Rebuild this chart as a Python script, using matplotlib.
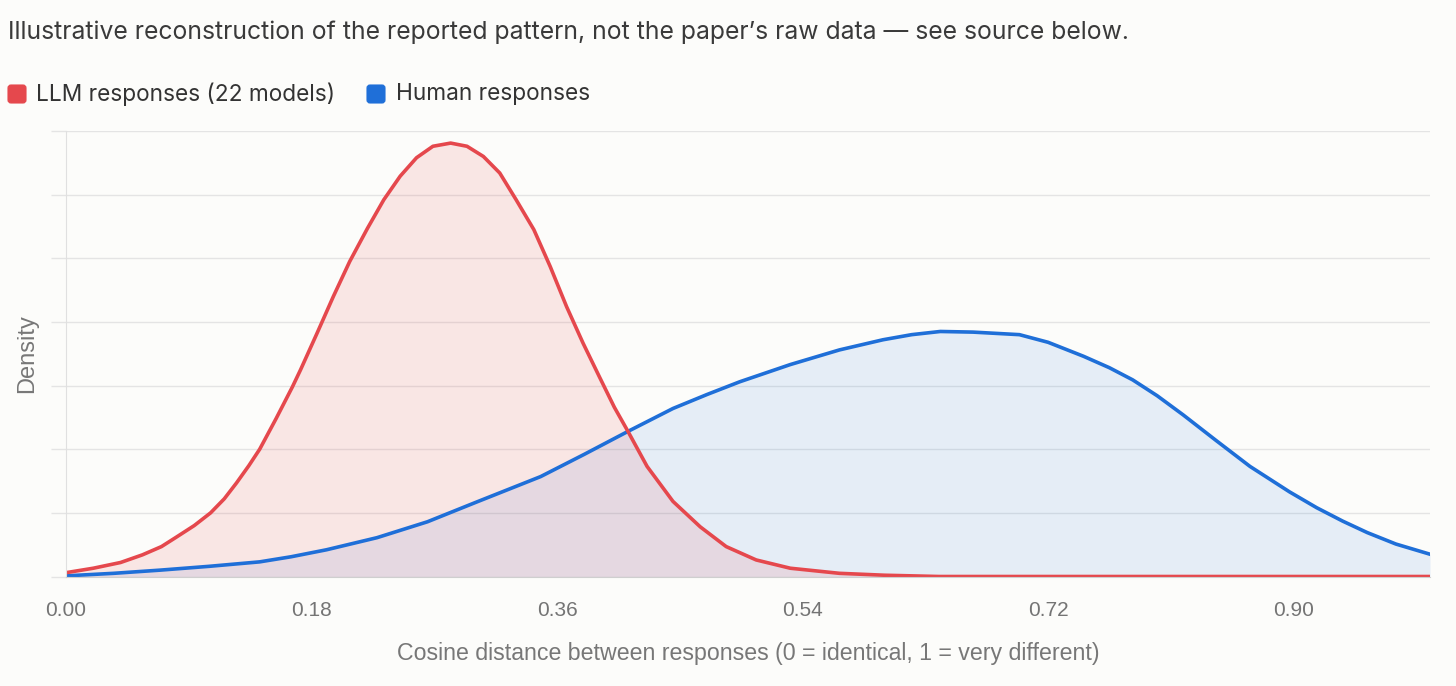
import matplotlib
matplotlib.use("Agg")
import matplotlib.pyplot as plt
from matplotlib.patches import FancyBboxPatch
from matplotlib.transforms import IdentityTransform

# values (x = cosine distance, y = density, arbitrary units)
llm_x = [0.0, 0.02, 0.04, 0.056, 0.07, 0.081, 0.094, 0.106, 0.116, 0.125, 0.134,
         0.142, 0.154, 0.166, 0.172, 0.184, 0.196, 0.208, 0.221, 0.233, 0.245,
         0.257, 0.269, 0.282, 0.294, 0.306, 0.318, 0.330, 0.343, 0.355, 0.367,
         0.379, 0.391, 0.402, 0.412, 0.426, 0.445, 0.465, 0.484, 0.506, 0.531,
         0.567, 0.60, 0.64, 0.70, 0.80, 0.90, 1.0]
llm_y = [0.06, 0.13, 0.22, 0.34, 0.47, 0.62, 0.80, 1.00, 1.22, 1.47, 1.74,
         2.00, 2.48, 2.98, 3.25, 3.82, 4.40, 4.95, 5.47, 5.92, 6.29,
         6.58, 6.76, 6.81, 6.76, 6.60, 6.34, 5.92, 5.45, 4.87, 4.24,
         3.67, 3.14, 2.66, 2.28, 1.73, 1.18, 0.78, 0.47, 0.26, 0.13,
         0.05, 0.02, 0.0, 0.0, 0.0, 0.0, 0.0]

human_x = [0.0, 0.035, 0.069, 0.105, 0.142, 0.165, 0.191, 0.228, 0.265, 0.301, 0.348,
           0.380, 0.412, 0.445, 0.470, 0.494, 0.531, 0.567, 0.599, 0.620, 0.641,
           0.665, 0.699, 0.720, 0.746, 0.765, 0.782, 0.800, 0.819, 0.843, 0.868,
           0.897, 0.917, 0.936, 0.954, 0.975, 1.0]
human_y = [0.01, 0.05, 0.10, 0.16, 0.23, 0.31, 0.42, 0.61, 0.86, 1.17, 1.57,
           1.92, 2.28, 2.64, 2.86, 3.06, 3.33, 3.56, 3.72, 3.80, 3.85,
           3.84, 3.80, 3.68, 3.46, 3.28, 3.09, 2.84, 2.54, 2.14, 1.73,
           1.33, 1.08, 0.87, 0.69, 0.51, 0.35]

x_ticks = [0.0, 0.18, 0.36, 0.54, 0.72, 0.90]
y_ticks = [0, 1, 2, 3, 4, 5, 6, 7]

series_names = ["LLM responses (22 models)", "Human responses"]
RED = "#E5484D"
BLUE = "#1F6FD8"
BG = "#FCFCFA"
GRID = "#E4E4E4"

W, H = 1456, 686
fig = plt.figure(figsize=(W / 100, H / 100), dpi=100, facecolor=BG)
ax = fig.add_axes([66 / W, 1 - 576.5 / H, (1430 - 66) / W, (576.5 - 131) / H])
ax.set_facecolor(BG)

ax.fill_between(human_x, human_y, 0, color=BLUE, alpha=0.10, lw=0)
ax.fill_between(llm_x, llm_y, 0, color=RED, alpha=0.12, lw=0)
ax.plot(human_x, human_y, color=BLUE, lw=2.6, solid_joinstyle="round")
ax.plot(llm_x, llm_y, color=RED, lw=2.6, solid_joinstyle="round")

ax.set_xlim(0, 1)
ax.set_ylim(0, 7)
ax.set_xticks(x_ticks)
ax.set_xticklabels([f"{t:.2f}" for t in x_ticks])
ax.set_yticks(y_ticks)
ax.set_yticklabels([])
ax.grid(axis="y", color=GRID, lw=1)
ax.set_axisbelow(True)

for s in ["top", "right"]:
    ax.spines[s].set_visible(False)
ax.spines["left"].set_color("#E0E0E0")
ax.spines["bottom"].set_color("#CFCFCF")

ax.tick_params(axis="x", length=0, pad=18, labelsize=15, labelcolor="#747474")
ax.tick_params(axis="y", length=10.8, color=GRID, width=1)
for lab in ax.get_xticklabels():
    lab.set_family("Liberation Sans")

ax.set_xlabel("Cosine distance between responses (0 = identical, 1 = very different)",
              fontsize=16.7, color="#777777", family="Liberation Sans")
ax.xaxis.set_label_coords(0.5, -0.148)
ax.set_ylabel("Density", fontsize=17, color="#777777", family="Liberation Sans")
ax.yaxis.set_label_coords(-0.0205, 0.5)

fig.text(8 / W, 1 - 32 / H,
         "Illustrative reconstruction of the reported pattern, not the paper\u2019s raw data \u2014 see source below.",
         family="Inter", fontsize=17.8, color="#3A3A3A", ha="left", va="center")

# legend: rounded swatches + labels
for name, col, sx, tx in zip(series_names, [RED, BLUE], [8, 367], [36, 396]):
    sw = FancyBboxPatch((sx, H - 103), 18, 18, boxstyle="round,pad=0,rounding_size=3",
                        transform=IdentityTransform(), facecolor=col,
                        edgecolor=col, lw=0.8, figure=fig)
    fig.patches.append(sw)
    fig.text(tx / W, 1 - 94 / H, name, family="Inter", fontsize=16.3,
             color="#333333", ha="left", va="center")

fig.savefig("out.png", dpi=100, facecolor=BG)
